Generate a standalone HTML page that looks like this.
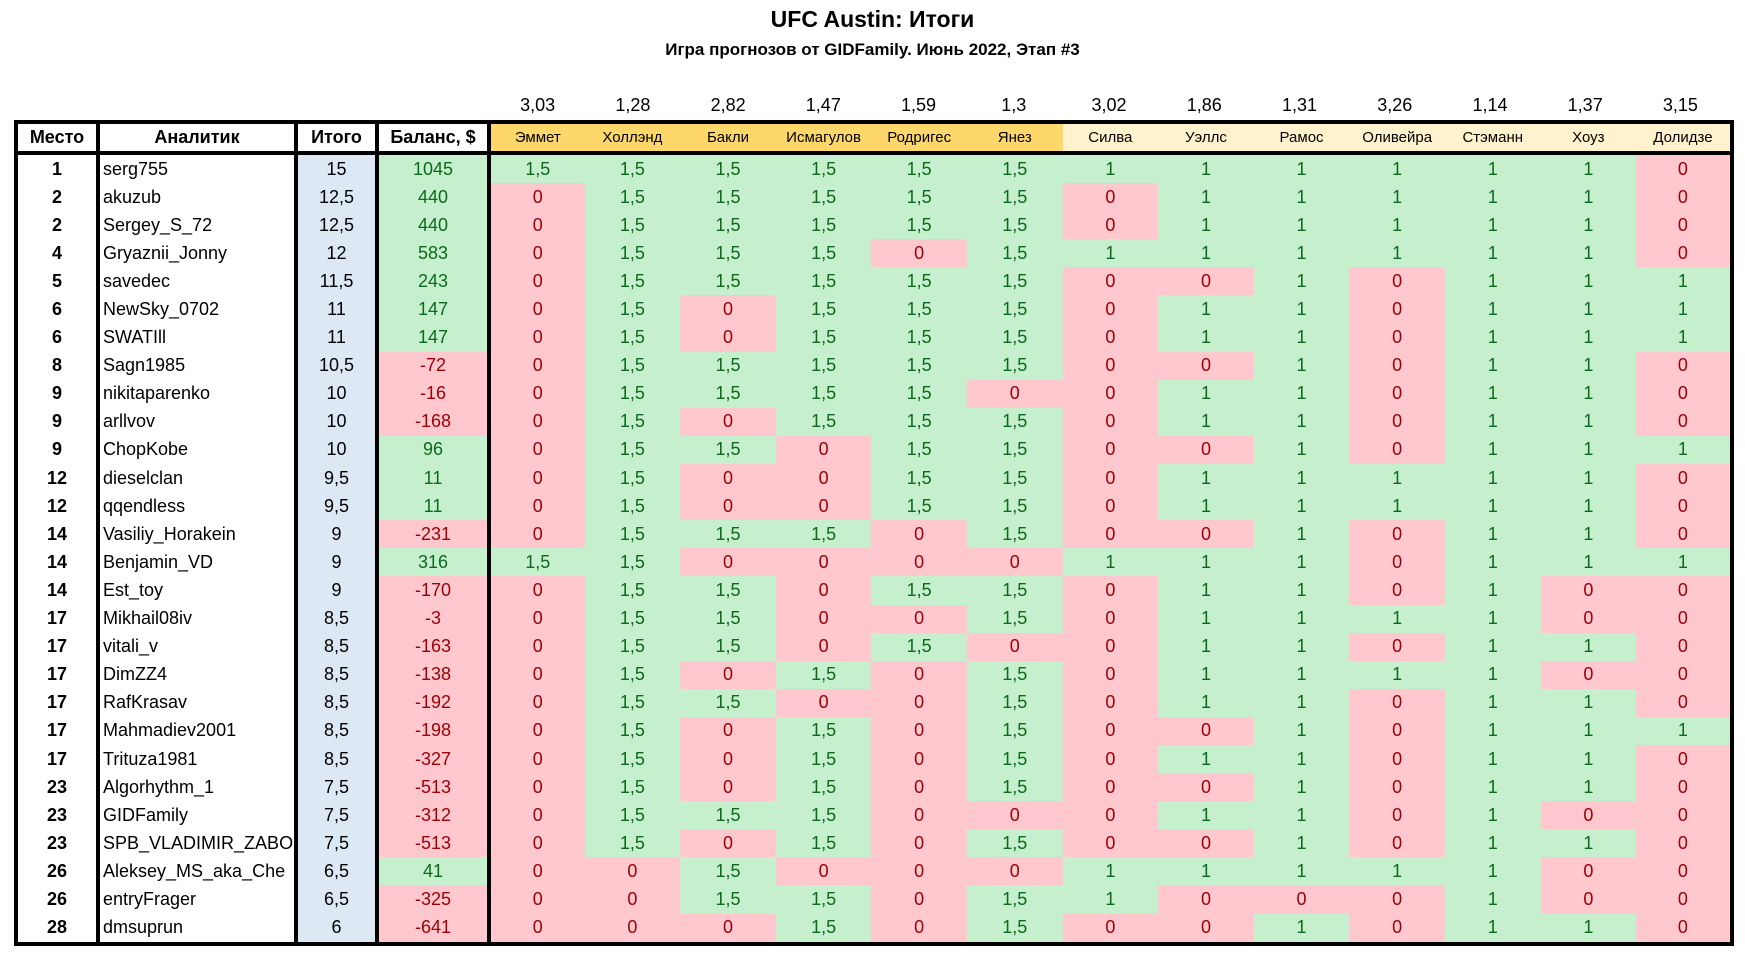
<!DOCTYPE html>
<html><head><meta charset="utf-8"><style>
body{margin:0;background:#fff;width:1745px;height:954px;overflow:hidden;font-family:"Liberation Sans",sans-serif;}
.t1{position:absolute;top:6px;left:0;width:1745px;text-align:center;font-weight:bold;font-size:23px;}
.t2{position:absolute;top:40px;left:0;width:1745px;text-align:center;font-weight:bold;font-size:17px;}
.odds{position:absolute;top:95px;left:490px;width:1238px;display:flex;font-size:18px;}
.odds span{flex:1;text-align:center;}
table{position:absolute;left:14px;top:120px;border-collapse:collapse;table-layout:fixed;width:1716px;border:4px solid #000;}
td{padding:0;height:28.1px;text-align:center;font-size:18px;white-space:nowrap;overflow:hidden;line-height:27px;}
tr.h td{height:25px;font-size:15px;border-bottom:4px solid #000;}
tr.h td.m{font-size:18px;font-weight:bold;}
td.b{border-right:4px solid #000;}
td.p{font-weight:bold;}
td.n{text-align:left;padding-left:3px;}
td.i{background:#dce9f5;}
.g{background:#c6efce;color:#0a6b1a;}
.r{background:#ffc7ce;color:#9c0006;}
.o{background:#fed76a;}
.y{background:#fff2cc;}
</style></head><body>
<div class="t1">UFC Austin: Итоги</div>
<div class="t2">Игра прогнозов от GIDFamily. Июнь 2022, Этап #3</div>
<div class="odds"><span>3,03</span><span>1,28</span><span>2,82</span><span>1,47</span><span>1,59</span><span>1,3</span><span>3,02</span><span>1,86</span><span>1,31</span><span>3,26</span><span>1,14</span><span>1,37</span><span>3,15</span></div>
<table>
<colgroup><col style="width:82px"><col style="width:198px"><col style="width:81px"><col style="width:112px"><col span="13" style="width:95.6px"></colgroup>
<tr class="h"><td class="m b">Место</td><td class="m b">Аналитик</td><td class="m b">Итого</td><td class="m b">Баланс, $</td><td class="o">Эммет</td><td class="o">Холлэнд</td><td class="o">Бакли</td><td class="o">Исмагулов</td><td class="o">Родригес</td><td class="o">Янез</td><td class="y">Силва</td><td class="y">Уэллс</td><td class="y">Рамос</td><td class="y">Оливейра</td><td class="y">Стэманн</td><td class="y">Хоуз</td><td class="y">Долидзе</td></tr>
<tr><td class="p b">1</td><td class="n b">serg755</td><td class="i b">15</td><td class="g b">1045</td><td class="g">1,5</td><td class="g">1,5</td><td class="g">1,5</td><td class="g">1,5</td><td class="g">1,5</td><td class="g">1,5</td><td class="g">1</td><td class="g">1</td><td class="g">1</td><td class="g">1</td><td class="g">1</td><td class="g">1</td><td class="r">0</td></tr>
<tr><td class="p b">2</td><td class="n b">akuzub</td><td class="i b">12,5</td><td class="g b">440</td><td class="r">0</td><td class="g">1,5</td><td class="g">1,5</td><td class="g">1,5</td><td class="g">1,5</td><td class="g">1,5</td><td class="r">0</td><td class="g">1</td><td class="g">1</td><td class="g">1</td><td class="g">1</td><td class="g">1</td><td class="r">0</td></tr>
<tr><td class="p b">2</td><td class="n b">Sergey_S_72</td><td class="i b">12,5</td><td class="g b">440</td><td class="r">0</td><td class="g">1,5</td><td class="g">1,5</td><td class="g">1,5</td><td class="g">1,5</td><td class="g">1,5</td><td class="r">0</td><td class="g">1</td><td class="g">1</td><td class="g">1</td><td class="g">1</td><td class="g">1</td><td class="r">0</td></tr>
<tr><td class="p b">4</td><td class="n b">Gryaznii_Jonny</td><td class="i b">12</td><td class="g b">583</td><td class="r">0</td><td class="g">1,5</td><td class="g">1,5</td><td class="g">1,5</td><td class="r">0</td><td class="g">1,5</td><td class="g">1</td><td class="g">1</td><td class="g">1</td><td class="g">1</td><td class="g">1</td><td class="g">1</td><td class="r">0</td></tr>
<tr><td class="p b">5</td><td class="n b">savedec</td><td class="i b">11,5</td><td class="g b">243</td><td class="r">0</td><td class="g">1,5</td><td class="g">1,5</td><td class="g">1,5</td><td class="g">1,5</td><td class="g">1,5</td><td class="r">0</td><td class="r">0</td><td class="g">1</td><td class="r">0</td><td class="g">1</td><td class="g">1</td><td class="g">1</td></tr>
<tr><td class="p b">6</td><td class="n b">NewSky_0702</td><td class="i b">11</td><td class="g b">147</td><td class="r">0</td><td class="g">1,5</td><td class="r">0</td><td class="g">1,5</td><td class="g">1,5</td><td class="g">1,5</td><td class="r">0</td><td class="g">1</td><td class="g">1</td><td class="r">0</td><td class="g">1</td><td class="g">1</td><td class="g">1</td></tr>
<tr><td class="p b">6</td><td class="n b">SWATIll</td><td class="i b">11</td><td class="g b">147</td><td class="r">0</td><td class="g">1,5</td><td class="r">0</td><td class="g">1,5</td><td class="g">1,5</td><td class="g">1,5</td><td class="r">0</td><td class="g">1</td><td class="g">1</td><td class="r">0</td><td class="g">1</td><td class="g">1</td><td class="g">1</td></tr>
<tr><td class="p b">8</td><td class="n b">Sagn1985</td><td class="i b">10,5</td><td class="r b">-72</td><td class="r">0</td><td class="g">1,5</td><td class="g">1,5</td><td class="g">1,5</td><td class="g">1,5</td><td class="g">1,5</td><td class="r">0</td><td class="r">0</td><td class="g">1</td><td class="r">0</td><td class="g">1</td><td class="g">1</td><td class="r">0</td></tr>
<tr><td class="p b">9</td><td class="n b">nikitaparenko</td><td class="i b">10</td><td class="r b">-16</td><td class="r">0</td><td class="g">1,5</td><td class="g">1,5</td><td class="g">1,5</td><td class="g">1,5</td><td class="r">0</td><td class="r">0</td><td class="g">1</td><td class="g">1</td><td class="r">0</td><td class="g">1</td><td class="g">1</td><td class="r">0</td></tr>
<tr><td class="p b">9</td><td class="n b">arllvov</td><td class="i b">10</td><td class="r b">-168</td><td class="r">0</td><td class="g">1,5</td><td class="r">0</td><td class="g">1,5</td><td class="g">1,5</td><td class="g">1,5</td><td class="r">0</td><td class="g">1</td><td class="g">1</td><td class="r">0</td><td class="g">1</td><td class="g">1</td><td class="r">0</td></tr>
<tr><td class="p b">9</td><td class="n b">ChopKobe</td><td class="i b">10</td><td class="g b">96</td><td class="r">0</td><td class="g">1,5</td><td class="g">1,5</td><td class="r">0</td><td class="g">1,5</td><td class="g">1,5</td><td class="r">0</td><td class="r">0</td><td class="g">1</td><td class="r">0</td><td class="g">1</td><td class="g">1</td><td class="g">1</td></tr>
<tr><td class="p b">12</td><td class="n b">dieselclan</td><td class="i b">9,5</td><td class="g b">11</td><td class="r">0</td><td class="g">1,5</td><td class="r">0</td><td class="r">0</td><td class="g">1,5</td><td class="g">1,5</td><td class="r">0</td><td class="g">1</td><td class="g">1</td><td class="g">1</td><td class="g">1</td><td class="g">1</td><td class="r">0</td></tr>
<tr><td class="p b">12</td><td class="n b">qqendless</td><td class="i b">9,5</td><td class="g b">11</td><td class="r">0</td><td class="g">1,5</td><td class="r">0</td><td class="r">0</td><td class="g">1,5</td><td class="g">1,5</td><td class="r">0</td><td class="g">1</td><td class="g">1</td><td class="g">1</td><td class="g">1</td><td class="g">1</td><td class="r">0</td></tr>
<tr><td class="p b">14</td><td class="n b">Vasiliy_Horakein</td><td class="i b">9</td><td class="r b">-231</td><td class="r">0</td><td class="g">1,5</td><td class="g">1,5</td><td class="g">1,5</td><td class="r">0</td><td class="g">1,5</td><td class="r">0</td><td class="r">0</td><td class="g">1</td><td class="r">0</td><td class="g">1</td><td class="g">1</td><td class="r">0</td></tr>
<tr><td class="p b">14</td><td class="n b">Benjamin_VD</td><td class="i b">9</td><td class="g b">316</td><td class="g">1,5</td><td class="g">1,5</td><td class="r">0</td><td class="r">0</td><td class="r">0</td><td class="r">0</td><td class="g">1</td><td class="g">1</td><td class="g">1</td><td class="r">0</td><td class="g">1</td><td class="g">1</td><td class="g">1</td></tr>
<tr><td class="p b">14</td><td class="n b">Est_toy</td><td class="i b">9</td><td class="r b">-170</td><td class="r">0</td><td class="g">1,5</td><td class="g">1,5</td><td class="r">0</td><td class="g">1,5</td><td class="g">1,5</td><td class="r">0</td><td class="g">1</td><td class="g">1</td><td class="r">0</td><td class="g">1</td><td class="r">0</td><td class="r">0</td></tr>
<tr><td class="p b">17</td><td class="n b">Mikhail08iv</td><td class="i b">8,5</td><td class="r b">-3</td><td class="r">0</td><td class="g">1,5</td><td class="g">1,5</td><td class="r">0</td><td class="r">0</td><td class="g">1,5</td><td class="r">0</td><td class="g">1</td><td class="g">1</td><td class="g">1</td><td class="g">1</td><td class="r">0</td><td class="r">0</td></tr>
<tr><td class="p b">17</td><td class="n b">vitali_v</td><td class="i b">8,5</td><td class="r b">-163</td><td class="r">0</td><td class="g">1,5</td><td class="g">1,5</td><td class="r">0</td><td class="g">1,5</td><td class="r">0</td><td class="r">0</td><td class="g">1</td><td class="g">1</td><td class="r">0</td><td class="g">1</td><td class="g">1</td><td class="r">0</td></tr>
<tr><td class="p b">17</td><td class="n b">DimZZ4</td><td class="i b">8,5</td><td class="r b">-138</td><td class="r">0</td><td class="g">1,5</td><td class="r">0</td><td class="g">1,5</td><td class="r">0</td><td class="g">1,5</td><td class="r">0</td><td class="g">1</td><td class="g">1</td><td class="g">1</td><td class="g">1</td><td class="r">0</td><td class="r">0</td></tr>
<tr><td class="p b">17</td><td class="n b">RafKrasav</td><td class="i b">8,5</td><td class="r b">-192</td><td class="r">0</td><td class="g">1,5</td><td class="g">1,5</td><td class="r">0</td><td class="r">0</td><td class="g">1,5</td><td class="r">0</td><td class="g">1</td><td class="g">1</td><td class="r">0</td><td class="g">1</td><td class="g">1</td><td class="r">0</td></tr>
<tr><td class="p b">17</td><td class="n b">Mahmadiev2001</td><td class="i b">8,5</td><td class="r b">-198</td><td class="r">0</td><td class="g">1,5</td><td class="r">0</td><td class="g">1,5</td><td class="r">0</td><td class="g">1,5</td><td class="r">0</td><td class="r">0</td><td class="g">1</td><td class="r">0</td><td class="g">1</td><td class="g">1</td><td class="g">1</td></tr>
<tr><td class="p b">17</td><td class="n b">Trituza1981</td><td class="i b">8,5</td><td class="r b">-327</td><td class="r">0</td><td class="g">1,5</td><td class="r">0</td><td class="g">1,5</td><td class="r">0</td><td class="g">1,5</td><td class="r">0</td><td class="g">1</td><td class="g">1</td><td class="r">0</td><td class="g">1</td><td class="g">1</td><td class="r">0</td></tr>
<tr><td class="p b">23</td><td class="n b">Algorhythm_1</td><td class="i b">7,5</td><td class="r b">-513</td><td class="r">0</td><td class="g">1,5</td><td class="r">0</td><td class="g">1,5</td><td class="r">0</td><td class="g">1,5</td><td class="r">0</td><td class="r">0</td><td class="g">1</td><td class="r">0</td><td class="g">1</td><td class="g">1</td><td class="r">0</td></tr>
<tr><td class="p b">23</td><td class="n b">GIDFamily</td><td class="i b">7,5</td><td class="r b">-312</td><td class="r">0</td><td class="g">1,5</td><td class="g">1,5</td><td class="g">1,5</td><td class="r">0</td><td class="r">0</td><td class="r">0</td><td class="g">1</td><td class="g">1</td><td class="r">0</td><td class="g">1</td><td class="r">0</td><td class="r">0</td></tr>
<tr><td class="p b">23</td><td class="n b">SPB_VLADIMIR_ZABO</td><td class="i b">7,5</td><td class="r b">-513</td><td class="r">0</td><td class="g">1,5</td><td class="r">0</td><td class="g">1,5</td><td class="r">0</td><td class="g">1,5</td><td class="r">0</td><td class="r">0</td><td class="g">1</td><td class="r">0</td><td class="g">1</td><td class="g">1</td><td class="r">0</td></tr>
<tr><td class="p b">26</td><td class="n b">Aleksey_MS_aka_Che</td><td class="i b">6,5</td><td class="g b">41</td><td class="r">0</td><td class="r">0</td><td class="g">1,5</td><td class="r">0</td><td class="r">0</td><td class="r">0</td><td class="g">1</td><td class="g">1</td><td class="g">1</td><td class="g">1</td><td class="g">1</td><td class="r">0</td><td class="r">0</td></tr>
<tr><td class="p b">26</td><td class="n b">entryFrager</td><td class="i b">6,5</td><td class="r b">-325</td><td class="r">0</td><td class="r">0</td><td class="g">1,5</td><td class="g">1,5</td><td class="r">0</td><td class="g">1,5</td><td class="g">1</td><td class="r">0</td><td class="r">0</td><td class="r">0</td><td class="g">1</td><td class="r">0</td><td class="r">0</td></tr>
<tr><td class="p b">28</td><td class="n b">dmsuprun</td><td class="i b">6</td><td class="r b">-641</td><td class="r">0</td><td class="r">0</td><td class="r">0</td><td class="g">1,5</td><td class="r">0</td><td class="g">1,5</td><td class="r">0</td><td class="r">0</td><td class="g">1</td><td class="r">0</td><td class="g">1</td><td class="g">1</td><td class="r">0</td></tr>
</table>
</body></html>
